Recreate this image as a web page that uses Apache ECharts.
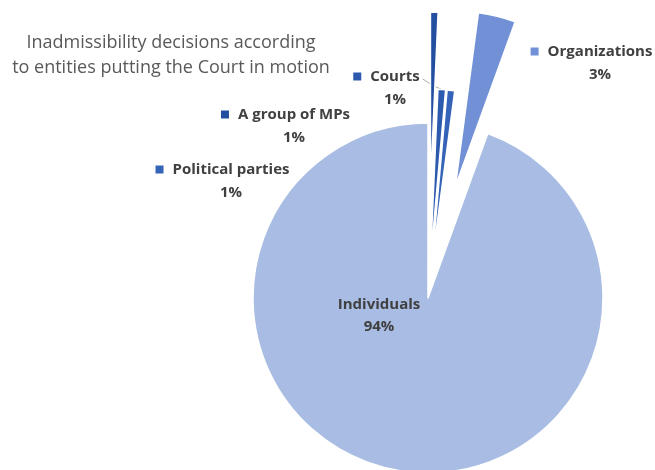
<!DOCTYPE html>
<html>
<head>
<meta charset="utf-8">
<script src="https://cdn.jsdelivr.net/npm/echarts@6/dist/echarts.min.js"></script>
<style>
  html, body { margin: 0; padding: 0; background: #ffffff; }
  #chart { width: 655px; height: 470px; }
</style>
</head>
<body>
<div id="chart"></div>
<script>
// Who brought the case, share of inadmissibility decisions (%), clockwise from 12 o'clock
const categories = ['A group of MPs', 'Courts', 'Political parties', 'Organizations', 'Individuals'];
const shares = [0.7, 0.7, 0.7, 3.45, 94.45];
const titleLines = ['Inadmissibility decisions according', 'to entities putting the Court in motion'];

// Styling and layout
const colors = ['#224f9f', '#2b5aae', '#3563b8', '#7190d5', '#a9bce3'];
const explode = [111, 34, 34, 115, 0];          // radial pull-out of each slice, px
const labelAt = [[285.5, 126], [386.5, 88], [222.5, 181], [591.5, 63], [379, 316]];
const CX = 428, CY = 298, R = 175;
const FONT = '"Open Sans", "Liberation Sans", sans-serif';

// mid-angle of every slice, measured clockwise from 12 o'clock
const total = shares.reduce((a, b) => a + b, 0);
let acc = 0;
const mids = shares.map(v => {
  const m = (acc + v / 2) / total * 2 * Math.PI;
  acc += v;
  return m;
});
const centers = mids.map((m, i) => [CX + explode[i] * Math.sin(m), CY - explode[i] * Math.cos(m)]);

const textStyle = { fontFamily: FONT, fontWeight: 'bold', fontSize: 15, color: '#404040', lineHeight: 23 };
const rich = {
  gp: { width: 9 },
  pad: { width: 17 },
  nm: Object.assign({}, textStyle),
  pc: Object.assign({}, textStyle),
  ind: Object.assign({}, textStyle, { lineHeight: 22 })
};
colors.forEach((c, k) => { rich['sq' + k] = { width: 8, height: 8, backgroundColor: c }; });

// leader line from the middle of the slice's outer arc to the end of the label's first line
function leader(i, rect) {
  const a = [centers[i][0] + R * Math.sin(mids[i]), centers[i][1] - R * Math.cos(mids[i])];
  const e = [labelAt[i][0] + rect.width / 2 + 3, labelAt[i][1] - 9];
  const m = [(a[0] + e[0]) / 2 + 1, (a[1] + e[1]) / 2 + 1.5];
  return [a, m, e];
}

// one pie per slice so each can be pulled out on its own; the others stay invisible
const series = categories.map((name, i) => ({
  type: 'pie',
  radius: R,
  center: centers[i],
  startAngle: 90,
  clockwise: true,
  avoidLabelOverlap: false,
  silent: true,
  animation: false,
  percentPrecision: 0,
  data: categories.map((n, j) => ({
    name: n,
    value: shares[j],
    itemStyle: j === i
      ? { color: colors[j], borderColor: '#ffffff', borderWidth: 1.5 }
      : { color: 'rgba(0,0,0,0)', borderWidth: 0 },
    label: { show: j === i },
    labelLine: { show: j === i && n === 'Courts' }
  })),
  label: {
    position: 'outside',
    align: 'center',
    rich: rich,
    // key square in front of the name; the percentage sits centred under the name
    formatter: p => p.dataIndex === categories.length - 1
      ? '{ind|' + p.name + '}\n{ind|' + p.percent + '%}'
      : '{sq' + p.dataIndex + '| }{gp| }{nm|' + p.name + '}\n{pad| }{pc|' + p.percent + '%}'
  },
  labelLine: { length: 8, length2: 8, smooth: 0.3, lineStyle: { color: '#a6a6a6', width: 1 } },
  labelLayout: params => {
    const out = { x: labelAt[i][0], y: labelAt[i][1], align: 'center', verticalAlign: 'middle' };
    if (params.dataIndex === i && categories[i] === 'Courts') {
      out.labelLinePoints = leader(i, params.labelRect);
    }
    return out;
  }
}));

const chart = echarts.init(document.getElementById('chart'), null, { renderer: 'canvas' });
chart.setOption({
  backgroundColor: '#ffffff',
  animation: false,
  graphic: [{
    type: 'text',
    x: 171,
    y: 30,
    style: {
      text: titleLines.join('\n'),
      align: 'center',
      verticalAlign: 'top',
      fill: '#595959',
      fontFamily: FONT,
      fontSize: 18,
      lineHeight: 25
    }
  }],
  series: series
});
</script>
</body>
</html>
